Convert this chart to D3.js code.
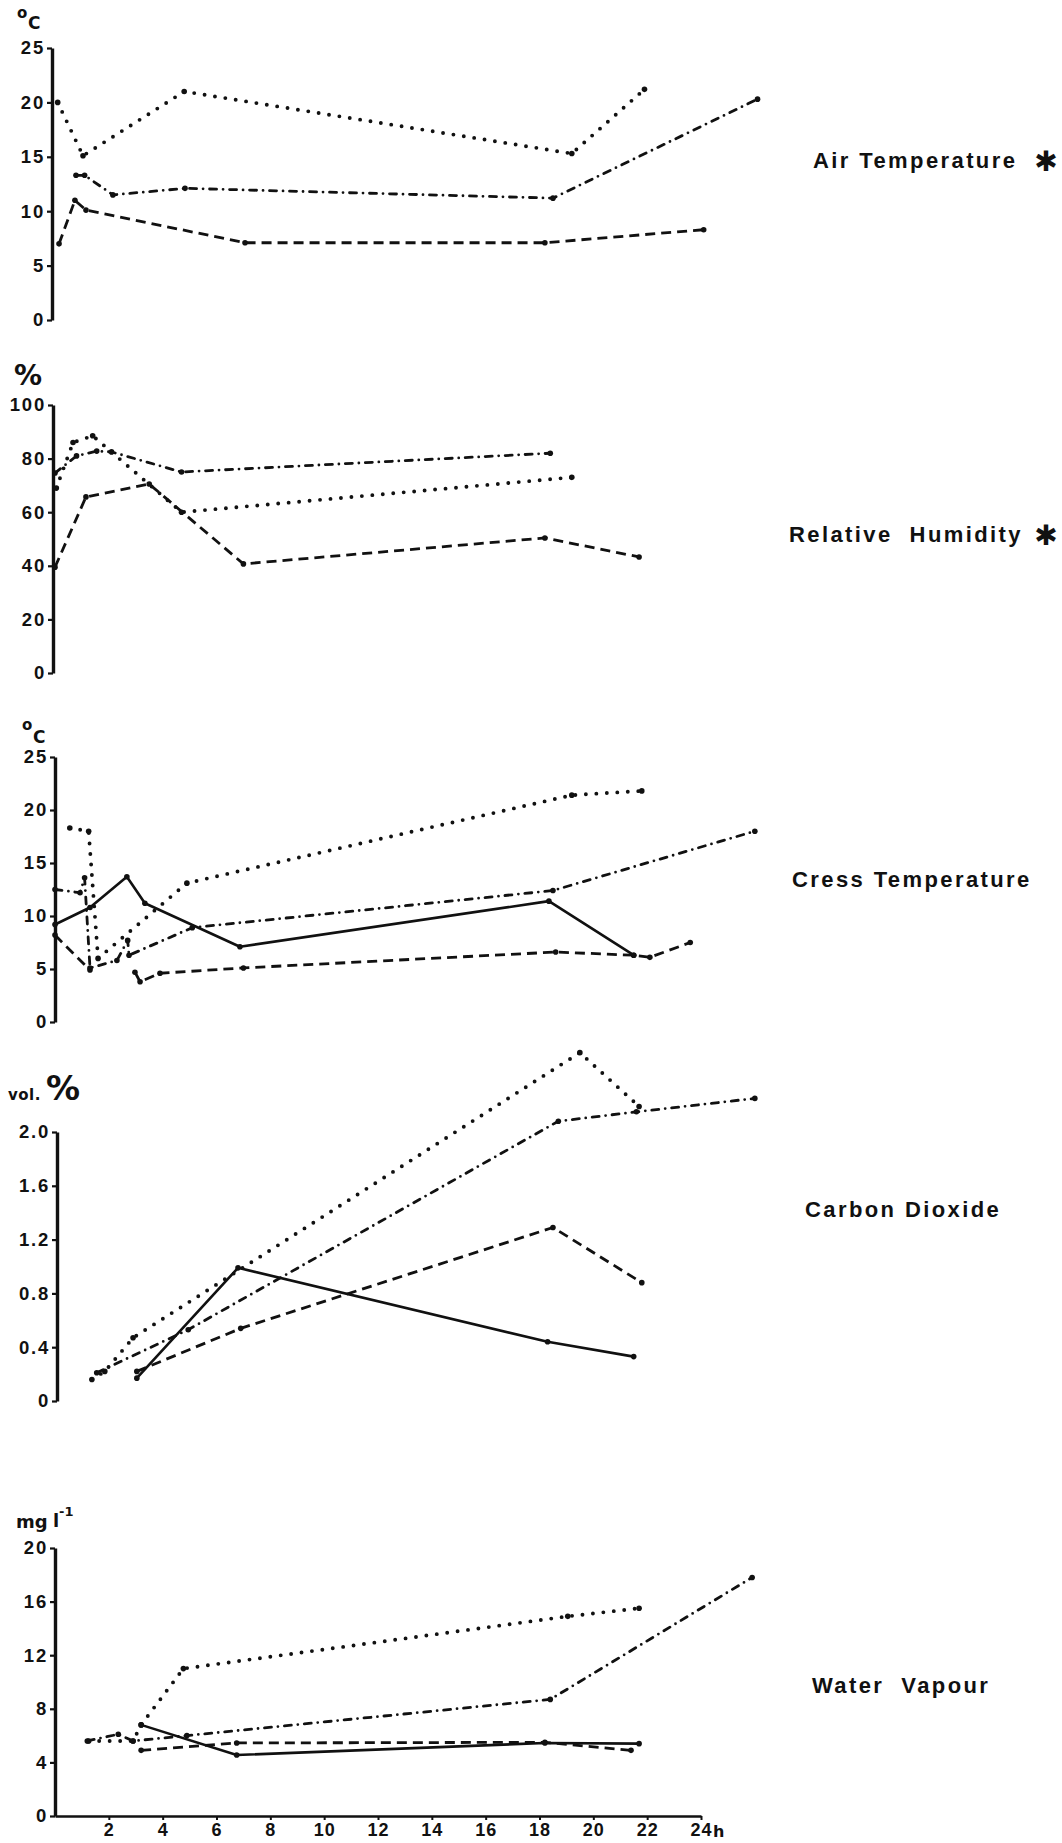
<!DOCTYPE html>
<html>
<head>
<meta charset="utf-8">
<script src="https://cdn.jsdelivr.net/npm/d3@7"></script>
<style>
  body { margin: 0; background: #fff; }
  svg { display: block; }
  .label { font-family: "Liberation Sans", Arial, sans-serif; font-weight: bold; white-space: pre; }
  .unit { font-family: "DejaVu Sans", sans-serif; font-weight: bold; }
</style>
</head>
<body>
<div id="chart"></div>
<script>
// time axis (hours)
const hourTicks = [2, 4, 6, 8, 10, 12, 14, 16, 18, 20, 22, 24];

// y ticks per panel
const airTicks = [0, 5, 10, 15, 20, 25];
const humidityTicks = [0, 20, 40, 60, 80, 100];
const cressTicks = [0, 5, 10, 15, 20, 25];
const co2Ticks = [0, 0.4, 0.8, 1.2, 1.6, 2.0];
const vapourTicks = [0, 4, 8, 12, 16, 20];

// series as [hour, value] (null = gap in the line)
const airDotted = [[0.1, 20.0], [1.04, 15.1], [4.8, 21.0], [19.2, 15.3], [21.9, 21.2]];
const airDashDot = [[0.78, 13.3], [1.1, 13.3], [2.15, 11.5], [4.83, 12.1], [18.5, 11.2], [26.1, 20.3]];
const airDashed = [[0.15, 7.0], [0.74, 11.0], [1.15, 10.1], [7.06, 7.1], [18.2, 7.1], [24.1, 8.3]];

const humidityDotted = [[0.05, 69], [0.67, 86], [1.4, 88.5], [4.7, 60], [19.2, 73]];
const humidityDashDot = [[0, 74.6], [0.8, 81], [1.55, 82.8], [2.1, 82.5], [4.7, 75], [18.4, 82]];
const humidityDashed = [[0, 39.5], [1.15, 65.7], [3.5, 70.5], [7.0, 40.7], [18.2, 50.4], [21.7, 43.3]];

const cressSolid = [[0, 9.2], [1.3, 10.8], [2.67, 13.7], [3.34, 11.2], [6.87, 7.1], [18.35, 11.4], [21.5, 6.3]];
const cressDotted = [[0.55, 18.3], [1.25, 18.0], [1.6, 6.0], [4.9, 13.1], [19.2, 21.4], [21.8, 21.8]];
const cressDashDot = [[0, 12.5], [0.93, 12.2], [1.1, 13.6], [1.3, 5.1], [2.3, 5.8], [2.7, 7.7], [2.75, 6.3], [5.1, 8.9], [18.5, 12.4], [26.0, 18.0]];
const cressDashed = [[0, 8.2], [1.3, 4.9], null, [2.97, 4.7], [3.16, 3.8], [3.9, 4.6], [7.0, 5.1], [18.6, 6.6], [21.5, 6.3], [22.1, 6.1], [23.6, 7.5]];

const co2Dotted = [[1.37, 0.16], [1.85, 0.22], [2.9, 0.47], [19.5, 2.59], [21.7, 2.19]];
const co2DashDot = [[1.55, 0.21], [4.95, 0.53], [18.7, 2.08], [21.6, 2.15], [26.0, 2.25]];
const co2Solid = [[3.04, 0.17], [6.8, 0.99], [18.3, 0.44], [21.5, 0.33]];
const co2Dashed = [[3.04, 0.22], [6.9, 0.54], [18.5, 1.29], [21.8, 0.88]];

const vapourDotted = [[1.25, 5.6], [2.9, 5.6], [3.2, 6.8], [4.77, 11.0], [19.05, 14.9], [21.7, 15.5]];
const vapourDashDot = [[1.2, 5.6], [2.35, 6.1], [2.9, 5.6], [4.9, 6.0], [18.4, 8.7], [25.9, 17.8]];
const vapourSolid = [[3.2, 6.8], [6.75, 4.55], [18.2, 5.45], [21.7, 5.4]];
const vapourDashed = [[3.2, 4.9], [6.75, 5.45], [18.2, 5.5], [21.4, 4.9]];

const ink = "#111";

const lineStyles = {
    solid:   {dash: null, width: 2.6, cap: "round"},
    dotted:  {dash: "0 10.5", width: 3.9, cap: "round"},
    dashed:  {dash: "10 6", width: 2.8, cap: "butt"},
    dashdot: {dash: "7 6.5 0 6.5", width: 2.8, cap: "round"}
};

// panel layout
const panels = [
    {label: "Air Temperature", star: true, labelX: 813, labelY: 168, ticks: airTicks, top: 48, bottom: 320, axisX: 52,
     unit: [{t: "o", x: 17, y: 18, size: 15}, {t: "C", x: 28, y: 29, size: 17}],
     series: [{data: airDotted, style: "dotted"}, {data: airDashDot, style: "dashdot"}, {data: airDashed, style: "dashed"}]},
    {label: "Relative  Humidity", star: true, labelX: 789, labelY: 542, ticks: humidityTicks, top: 405, bottom: 673, axisX: 53,
     unit: [{t: "%", x: 14, y: 385, size: 28, font: "Liberation Sans"}],
     series: [{data: humidityDotted, style: "dotted"}, {data: humidityDashDot, style: "dashdot"}, {data: humidityDashed, style: "dashed"}]},
    {label: "Cress Temperature", star: false, labelX: 792, labelY: 887, ticks: cressTicks, top: 757, bottom: 1022, axisX: 55,
     unit: [{t: "o", x: 22, y: 730, size: 15}, {t: "C", x: 33, y: 743, size: 17}],
     series: [{data: cressSolid, style: "solid"}, {data: cressDotted, style: "dotted"}, {data: cressDashDot, style: "dashdot"}, {data: cressDashed, style: "dashed"}]},
    {label: "Carbon Dioxide", star: false, labelX: 805, labelY: 1217, ticks: co2Ticks, top: 1132, bottom: 1401, axisX: 57,
     format: d => d === 0 ? "0" : d.toFixed(1),
     unit: [{t: "vol.", x: 8, y: 1100, size: 15, ls: 0.5}, {t: "%", x: 46, y: 1100, size: 34, font: "Liberation Sans"}],
     series: [{data: co2Dotted, style: "dotted"}, {data: co2DashDot, style: "dashdot"}, {data: co2Solid, style: "solid"}, {data: co2Dashed, style: "dashed"}]},
    {label: "Water  Vapour", star: false, labelX: 812, labelY: 1693, ticks: vapourTicks, top: 1548, bottom: 1816, axisX: 55,
     unit: [{t: "mg", x: 16, y: 1528, size: 18}, {t: "l", x: 53, y: 1527, size: 18}, {t: "-1", x: 59, y: 1516, size: 13}],
     series: [{data: vapourDotted, style: "dotted"}, {data: vapourDashDot, style: "dashdot"}, {data: vapourSolid, style: "solid"}, {data: vapourDashed, style: "dashed"}],
     xAxis: true}
];

const x = d3.scaleLinear().domain([0, 24]).range([55, 701]);

const svg = d3.select("#chart")
    .append("svg")
    .attr("width", 1062)
    .attr("height", 1843);

svg.append("rect").attr("width", 1062).attr("height", 1843).attr("fill", "#fff");

panels.forEach(p => {
    const y = d3.scaleLinear()
        .domain([0, d3.max(p.ticks)])
        .range([p.bottom, p.top]);

    const g = svg.append("g");

    // Y axis
    const yAxis = g.append("g")
        .attr("transform", `translate(${p.axisX},0)`)
        .call(d3.axisLeft(y)
            .tickValues(p.ticks)
            .tickSize(5)
            .tickSizeOuter(0)
            .tickPadding(2)
            .tickFormat(p.format || d3.format("d")))
        .attr("font-family", "Liberation Sans")
        .attr("font-size", 18.5)
        .attr("font-weight", "bold");
    yAxis.select(".domain").attr("stroke", ink).attr("stroke-width", 3.4);
    yAxis.selectAll(".tick line").attr("stroke", ink).attr("stroke-width", 2.2);
    yAxis.selectAll(".tick text").attr("fill", ink).attr("letter-spacing", 1.8);

    // X axis on the last panel only
    if (p.xAxis) {
        const xAxis = g.append("g")
            .attr("transform", `translate(0,${p.bottom})`)
            .call(d3.axisBottom(x)
                .tickValues(hourTicks)
                .tickSize(4)
                .tickSizeOuter(0)
                .tickPadding(3))
            .attr("font-family", "Liberation Sans")
            .attr("font-size", 18)
            .attr("font-weight", "bold");
        xAxis.select(".domain").attr("stroke", ink).attr("stroke-width", 2.6);
        xAxis.selectAll(".tick line").attr("stroke", ink).attr("stroke-width", 2);
        xAxis.selectAll(".tick text").attr("fill", ink).attr("letter-spacing", 1);
        g.append("text")
            .attr("class", "unit")
            .attr("x", x(24) + 12)
            .attr("y", p.bottom + 21)
            .attr("font-size", 16)
            .attr("fill", ink)
            .text("h");
    }

    // unit text
    p.unit.forEach(u => {
        g.append("text")
            .attr("class", "unit")
            .attr("x", u.x)
            .attr("y", u.y)
            .attr("font-size", u.size)
            .attr("font-family", u.font || null)
            .attr("letter-spacing", u.ls || null)
            .attr("fill", ink)
            .text(u.t);
    });

    // lines
    const line = d3.line()
        .defined(d => d !== null)
        .x(d => x(d[0]))
        .y(d => y(d[1]));

    p.series.forEach(s => {
        const st = lineStyles[s.style];
        g.append("path")
            .datum(s.data)
            .attr("d", line)
            .attr("fill", "none")
            .attr("stroke", ink)
            .attr("stroke-width", st.width)
            .attr("stroke-linecap", st.cap)
            .attr("stroke-linejoin", "round")
            .attr("stroke-dasharray", st.dash);

        g.selectAll(null)
            .data(s.data.filter(d => d !== null))
            .enter()
            .append("circle")
            .attr("cx", d => x(d[0]))
            .attr("cy", d => y(d[1]))
            .attr("r", 2.8)
            .attr("fill", ink);
    });

    // panel label
    g.append("text")
        .attr("class", "label")
        .attr("x", p.labelX)
        .attr("y", p.labelY)
        .attr("font-size", 22)
        .attr("letter-spacing", 2.4)
        .attr("fill", ink)
        .text(p.label);

    if (p.star) {
        g.append("text")
            .attr("x", 1046)
            .attr("y", p.labelY + 3)
            .attr("text-anchor", "middle")
            .attr("font-family", "DejaVu Sans")
            .attr("font-size", 28)
            .attr("fill", ink)
            .text("\u2731");
    }
});
</script>
</body>
</html>
